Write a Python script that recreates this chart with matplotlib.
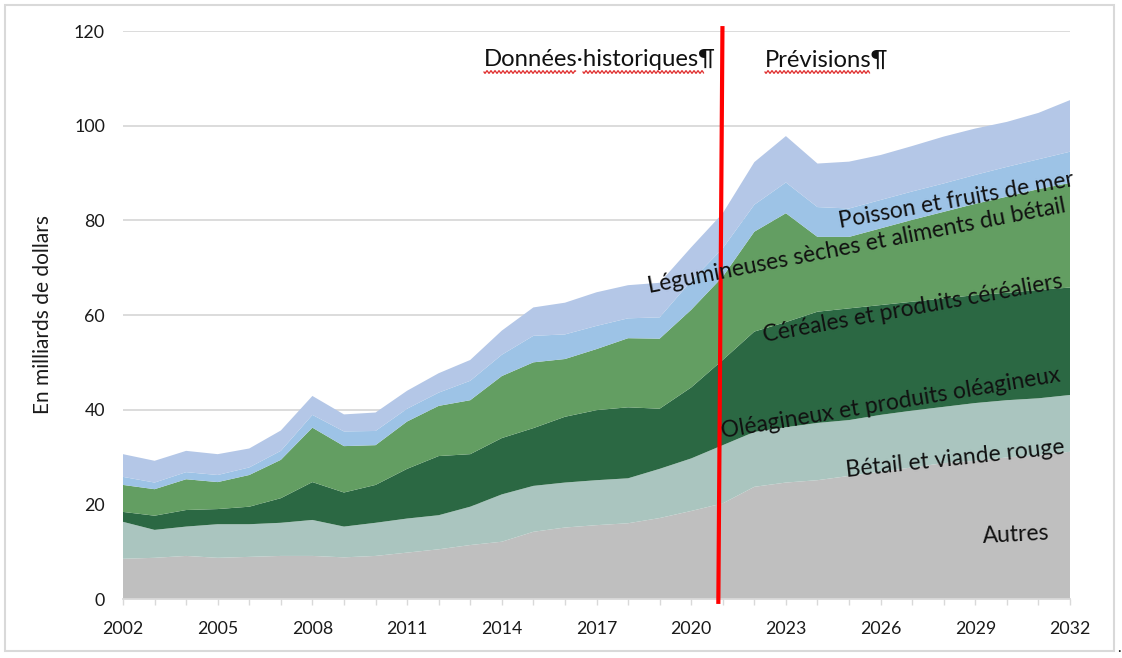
import numpy as np
import matplotlib.pyplot as plt
from matplotlib.lines import Line2D
from matplotlib.patches import Rectangle

plt.rcParams['font.family'] = ['Lato', 'DejaVu Sans']

years = list(range(2002, 2033))

# milliards de dollars (couches empilées de bas en haut)
autres = [8.5, 8.7, 9.1, 8.7, 8.9, 9.1, 9.1, 8.8, 9.1, 9.8, 10.5, 11.4, 12.1, 14.2, 15.1, 15.6,
          16.0, 17.1, 18.6, 20.2, 23.7, 24.6, 25.1, 26.0, 26.9, 27.8, 28.7, 29.2, 29.9, 30.4, 31.1]
betail = [7.8, 5.9, 6.2, 7.1, 6.9, 7.0, 7.6, 6.5, 7.0, 7.2, 7.2, 8.1, 10.0, 9.7, 9.5, 9.5,
          9.5, 10.4, 11.1, 12.3, 11.6, 11.7, 12.1, 11.8, 12.0, 12.0, 11.9, 12.2, 12.1, 12.0, 12.0]
oleagineux = [2.1, 3.0, 3.5, 3.2, 3.7, 5.2, 8.0, 7.2, 8.0, 10.5, 12.5, 11.1, 11.9, 12.2, 13.9, 14.8,
              15.0, 12.7, 15.0, 18.0, 21.2, 22.2, 23.5, 23.6, 23.2, 23.0, 22.9, 22.8, 22.7, 22.9, 22.7]
cereales = [5.7, 5.6, 6.5, 5.7, 6.7, 8.1, 11.5, 9.8, 8.4, 10.0, 10.6, 11.4, 13.1, 13.9, 12.2, 12.9,
            14.6, 14.8, 16.4, 17.6, 21.1, 23.0, 15.8, 15.1, 16.2, 17.3, 18.3, 19.3, 20.3, 21.3, 22.1]
legumineuses = [1.7, 1.4, 1.5, 1.5, 1.6, 1.9, 2.7, 3.1, 3.0, 2.7, 2.8, 4.1, 4.5, 5.6, 5.2, 4.9,
                4.2, 4.5, 6.1, 6.0, 5.7, 6.5, 6.3, 6.0, 6.0, 6.0, 6.0, 6.1, 6.3, 6.3, 6.6]
poisson = [4.8, 4.6, 4.5, 4.4, 4.0, 4.3, 4.0, 3.6, 3.9, 3.8, 4.1, 4.4, 5.1, 6.0, 6.7, 7.1,
           7.0, 7.3, 7.1, 7.4, 9.0, 9.8, 9.2, 9.9, 9.5, 9.6, 9.9, 9.8, 9.5, 9.8, 10.9]

couleurs = ['#bfbfbf', '#aac5bf', '#2b6843', '#639e62', '#9dc3e6', '#b4c7e7']

W, H = 1122, 658
fig = plt.figure(figsize=(W / 100, H / 100), dpi=100)
ax = fig.add_axes([123 / W, 1 - 599 / H, (1070 - 123) / W, (599 - 31) / H])

ax.stackplot(years, autres, betail, oleagineux, cereales, legumineuses, poisson,
             colors=couleurs, linewidth=0, zorder=2)

ax.set_xlim(2002, 2032)
ax.set_ylim(0, 120)
ax.set_yticks(range(0, 121, 20))
ax.set_xticks(range(2002, 2033, 3))
ax.set_xticks(years, minor=True)
ax.yaxis.grid(True, color='#d9d9d9', linewidth=1.3, zorder=0)
ax.set_axisbelow(True)
for s in ['left', 'right', 'top']:
    ax.spines[s].set_visible(False)
ax.spines['bottom'].set_color('#d9d9d9')
ax.spines['bottom'].set_linewidth(1.3)
ax.spines['bottom'].set_zorder(3)
ax.tick_params(axis='y', length=0, pad=13, labelsize=12.8, labelcolor='#1a1a1a')
ax.tick_params(axis='x', which='both', length=4.5, width=1, color='#d9d9d9', direction='out')
ax.tick_params(axis='x', which='major', pad=11, labelsize=12.8, labelcolor='#1a1a1a')

fig.text(43 / W, 1 - 314 / H, 'En milliards de dollars', rotation=90, ha='center', va='center',
         fontsize=15, color='#1a1a1a')

# ligne de séparation historique / prévisions
ax.plot([2020.99, 2020.86], [120.6, -0.6], color='#ff0000', linewidth=3, zorder=5, clip_on=False)

# étiquettes des séries
labels = [
    ('Poisson et fruits de mer', 956, 200, 10.2),
    ('Légumineuses sèches et aliments du bétail', 857, 246, 11.0),
    ('Céréales et produits céréaliers', 913, 308, 10.3),
    ('Oléagineux et produits oléagineux', 891, 403, 9.5),
    ('Bétail et viande rouge', 955, 459, 6.1),
    ('Autres', 1016, 535, 3.0),
]
for txt, px, py, ang in labels:
    fig.text(px / W, 1 - py / H, txt, rotation=ang, rotation_mode='anchor', ha='center',
             va='center', fontsize=16.5, color='#111111', zorder=6)

fig.text(484 / W, 1 - 60 / H, 'Données·historiques¶', ha='left', va='center', fontsize=17.2,
         color='#111111')
fig.text(765 / W, 1 - 60 / H, 'Prévisions¶', ha='left', va='center', fontsize=17.2,
         color='#111111')

# soulignement ondulé du correcteur
for x0, x1 in [(484, 576), (583, 704), (765, 870)]:
    xs = np.arange(x0, x1, 0.5)
    ys = 72 + 1.3 * np.sin((xs - x0) * np.pi / 2)
    fig.add_artist(Line2D(xs / W, 1 - ys / H, color='#e03030', linewidth=0.9))

fig.add_artist(Rectangle((5 / W, 1 - 651 / H), (1114 - 5) / W, (651 - 5) / H, fill=False,
                         edgecolor='#d9d9d9', linewidth=1.5, transform=fig.transFigure))
fig.text(1119 / W, 1 - 648 / H, '.', ha='center', va='center', fontsize=11, color='#111111')

fig.savefig('out.png', dpi=100)
